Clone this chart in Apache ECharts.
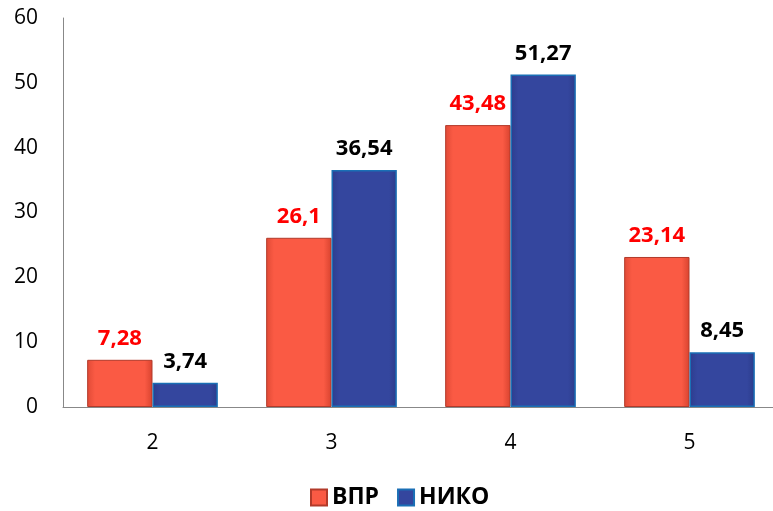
<!DOCTYPE html>
<html>
<head>
<meta charset="utf-8">
<script src="https://cdn.jsdelivr.net/npm/echarts@6/dist/echarts.min.js"></script>
<style>
  html, body { margin: 0; padding: 0; background: #fff; overflow: hidden; }
  #chart { width: 800px; height: 511px; }
</style>
</head>
<body>
<div id="chart"></div>
<script>
// grades and percentages
var categories = ['2', '3', '4', '5']
var vprValues = [7.28, 26.1, 43.48, 23.14]
var nikoValues = [3.74, 36.54, 51.27, 8.45]
var yTicks = [0, 10, 20, 30, 40, 50, 60]

var font = '"Open Sans", "Noto Sans", sans-serif'

function comma(p) {
  return String(p.value).replace('.', ',')
}

var myChart = echarts.init(document.getElementById('chart'))
myChart.setOption({
  animation: false,
  textStyle: { fontFamily: font },
  grid: { left: 63, top: 18, bottom: 104, width: 716 },
  legend: {
    bottom: -3,
    left: 305,
    icon: 'rect',
    itemWidth: 16,
    itemHeight: 16,
    itemGap: 18,
    textStyle: { fontSize: 23, fontWeight: 'bold', color: '#000', fontFamily: font }
  },
  xAxis: {
    type: 'category',
    data: categories,
    axisLine: { lineStyle: { color: '#888' } },
    axisTick: { show: false },
    axisLabel: { fontSize: 21, color: '#000', margin: 26, fontFamily: font }
  },
  yAxis: {
    type: 'value',
    min: yTicks[0],
    max: yTicks[yTicks.length - 1],
    interval: 10,
    axisLine: { show: true, lineStyle: { color: '#888' } },
    splitLine: { show: false },
    axisLabel: { fontSize: 21, color: '#000', margin: 25, fontFamily: font }
  },
  series: [
    {
      name: 'ВПР',
      type: 'bar',
      data: vprValues,
      barGap: '0%',
      barCategoryGap: '27%',
      itemStyle: {
        color: new echarts.graphic.LinearGradient(0, 0, 1, 0, [
          { offset: 0, color: '#e04a36' },
          { offset: 0.12, color: '#fa5a44' },
          { offset: 0.88, color: '#fa5a44' },
          { offset: 1, color: '#d8432f' }
        ]),
        borderColor: '#b23a2a',
        borderWidth: 1
      },
      label: {
        show: true,
        position: 'top',
        distance: 10,
        formatter: comma,
        fontSize: 22,
        fontWeight: 'bold',
        color: '#ff0000',
        fontFamily: font
      }
    },
    {
      name: 'НИКО',
      type: 'bar',
      data: nikoValues,
      itemStyle: {
        color: new echarts.graphic.LinearGradient(0, 0, 1, 0, [
          { offset: 0, color: '#2d3d8e' },
          { offset: 0.12, color: '#34469e' },
          { offset: 0.88, color: '#34469e' },
          { offset: 1, color: '#2b3b8a' }
        ]),
        borderColor: '#1a6fb5',
        borderWidth: 1.5
      },
      label: {
        show: true,
        position: 'top',
        distance: 10,
        formatter: comma,
        fontSize: 22,
        fontWeight: 'bold',
        color: '#000',
        fontFamily: font
      }
    }
  ]
})
</script>
</body>
</html>
